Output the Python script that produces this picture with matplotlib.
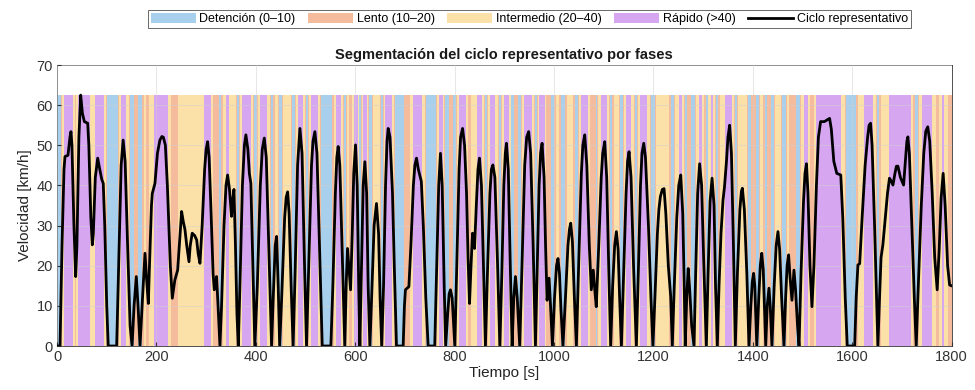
import numpy as np
import matplotlib
matplotlib.use("Agg")
import matplotlib.pyplot as plt
from matplotlib.colors import ListedColormap
from matplotlib.patches import Patch
from matplotlib.lines import Line2D

plt.rcParams['font.family'] = ['Liberation Sans', 'DejaVu Sans']

# ciclo representativo, tiempo en s y velocidad en km/h
tiempo = [
    0, 6, 10, 14, 16, 22, 26, 28, 30, 34,
    37.5, 40, 44, 47.6, 51, 55, 61.7, 64, 68, 71,
    73, 77, 81.8, 86, 90, 93, 96, 100, 103, 120,
    124, 129, 133, 137, 142, 147, 151, 155, 159.5, 163,
    167, 172, 177, 180, 183.7, 186, 190, 191.7, 197, 202,
    207, 211, 214, 218, 222, 228, 231.9, 237, 242.7, 246,
    250.7, 254, 257.4, 261, 265.5, 268, 272, 277, 281, 284,
    287.6, 292, 297, 300, 303, 306, 310, 314, 316.4, 319,
    321, 324, 327.8, 331, 336, 340, 343.2, 347, 351, 353,
    356, 359, 362, 364.7, 368, 373, 377, 380, 384, 387,
    390, 394, 398, 403, 409, 413, 417, 421, 426, 431.7,
    435, 439, 441.8, 445, 448, 452, 458, 461, 464, 467,
    471, 475, 479, 484, 488.7, 493, 498, 502, 506, 512,
    515, 518.8, 523, 528, 533.6, 551, 555, 560, 563, 565.7,
    569, 574, 579, 582, 584.5, 587, 590.6, 594, 597, 600.6,
    604, 607, 609.3, 613, 616, 619.4, 623, 626, 629.5, 633,
    638, 642.8, 647, 650, 653.3, 657, 661, 664, 666.3, 670,
    675, 679, 683, 696.5, 699, 701, 708, 712, 717, 720,
    723.3, 727, 733, 737, 742, 746.7, 760, 764, 768, 771.5,
    775, 779, 782, 786, 789, 791.6, 795, 800.4, 804, 809,
    812, 816, 820, 824, 827, 830, 833, 836, 840, 844,
    847, 850, 854, 858, 862, 866, 871, 874, 877, 881,
    886, 891, 895, 899, 902, 904.3, 908, 912, 915.7, 919,
    922.4, 926, 931, 936, 941, 945, 949, 953, 958, 962.6,
    966, 970, 973, 976, 980, 983, 986, 990, 993, 996.8,
    1001, 1005, 1008, 1011, 1014, 1018, 1023, 1028, 1031, 1033.6,
    1037, 1041, 1045, 1050, 1055, 1058, 1061.8, 1066, 1071, 1075,
    1079, 1082, 1085, 1090, 1095, 1098, 1102, 1106, 1110, 1114,
    1118, 1122, 1125.5, 1129, 1132, 1135.6, 1140, 1145, 1148, 1151,
    1155, 1160, 1165.7, 1170, 1174, 1177, 1180.5, 1184, 1190, 1195,
    1199, 1203, 1208, 1211, 1214, 1218, 1221.4, 1225, 1230, 1234.8,
    1238, 1242, 1247, 1251, 1255, 1259, 1262, 1264, 1267, 1270,
    1273, 1277, 1281.7, 1285, 1289, 1293, 1297, 1301, 1306.5, 1310,
    1314, 1318, 1322, 1325, 1328.6, 1332, 1336, 1340, 1343, 1347,
    1350, 1353.4, 1357, 1361, 1364.8, 1369, 1374, 1377, 1379, 1383,
    1388, 1392.3, 1396, 1399, 1401.6, 1404, 1408, 1412, 1415, 1418,
    1421, 1426, 1429, 1432.5, 1435, 1438.5, 1443, 1447, 1450.6, 1454,
    1458, 1462.7, 1466, 1469, 1472, 1475, 1478.8, 1482.8, 1486, 1490,
    1493, 1497, 1502, 1505, 1508, 1511, 1515, 1519, 1523, 1528,
    1532, 1536.4, 1544, 1554.5, 1558, 1563, 1569, 1577, 1581, 1586,
    1590, 1605, 1608, 1611.5, 1615, 1620, 1626, 1631, 1634, 1637,
    1640, 1645, 1651.7, 1655, 1658, 1661.7, 1666, 1671, 1675, 1678,
    1682, 1686, 1689, 1692, 1697, 1703.4, 1707, 1710, 1712, 1715,
    1720, 1725, 1728.8, 1733, 1739, 1744, 1748, 1752, 1756, 1761,
    1766, 1771, 1775, 1779, 1783, 1787, 1792, 1796, 1800,
]
velocidad = [
    0, 0, 25, 44, 47.2, 47.5, 52, 53.4, 50, 30,
    17.3, 25, 52, 62.5, 58, 55.9, 55.5, 50, 32, 25.2,
    28, 42, 46.8, 44, 41.5, 40.5, 30, 10, 0, 0,
    20, 45, 51.3, 46, 25, 5, 0, 10, 17.3, 10,
    0, 12, 23.1, 17, 10.6, 20, 35, 38, 40.5, 48,
    51.3, 52.2, 52, 50, 40, 20, 11.9, 16.4, 18.9, 25,
    33.5, 31, 29, 25, 21, 25, 28.1, 27.5, 26.4, 23,
    20.6, 30, 44, 49, 50.9, 47, 33, 18, 14, 16,
    17.3, 10, 0, 10, 30, 40, 42.6, 39, 32.3, 36,
    39, 25, 8, 0, 15, 40, 50, 52.6, 49, 43,
    40.5, 20, 0, 15, 40, 49, 51.8, 47, 25, 0,
    12, 25, 27.3, 15, 0, 12, 32, 37, 38.4, 33,
    15, 0, 18, 45, 54.2, 48, 20, 0, 18, 45,
    51, 53.4, 48, 25, 0, 0, 15, 38, 47, 49.7,
    45, 22, 0, 16, 24.3, 20, 14, 28, 43, 50.1,
    40, 15, 0, 22, 40, 45.9, 38, 15, 0, 12,
    30, 35.5, 28, 12, 0, 15, 40, 51, 54.2, 52,
    38, 18, 0, 0, 10, 14, 14.8, 25, 40, 45,
    46.8, 44, 41, 30, 12, 0, 0, 20, 40, 48,
    40, 15, 0, 8, 13, 14, 12, 0, 18, 44,
    52, 54.2, 50, 38, 22, 10.6, 20, 28.1, 24.3, 36,
    44, 46.8, 40, 20, 0, 18, 38, 44, 45.1, 42,
    22, 0, 18, 40, 48, 50.5, 44, 20, 0, 12,
    17.3, 12, 0, 22, 45, 52, 53.4, 48, 25, 0,
    18, 40, 48, 50.5, 42, 25, 11.4, 16.9, 10, 0,
    12, 20, 21.8, 18, 9, 0, 12, 25, 29, 30.6,
    26, 12, 0, 22, 43, 50, 52.6, 45, 25, 14,
    18.9, 14, 9.8, 25, 42, 48, 50.9, 42, 20, 0,
    15, 25, 28.5, 24, 12, 0, 18, 38, 46, 48.4,
    42, 20, 0, 20, 40, 48, 50.5, 47, 30, 12,
    0, 12, 28, 34, 37.2, 39, 39.2, 33, 20, 12.3,
    0, 15, 32, 40, 42.6, 33, 15, 0, 12, 19.3,
    14, 5, 0, 18, 38, 45.4, 40, 22, 0, 18,
    36, 41.8, 35, 15, 0, 15, 28, 36.3, 39.6, 46,
    52, 55, 48, 25, 0, 18, 34, 38.5, 39.3, 34,
    18, 0, 10, 16, 18.1, 15, 0, 12, 20, 23.1,
    19, 0, 10, 14.4, 10, 0, 15, 25, 28.5, 24,
    12, 0, 12, 20, 22.7, 17, 11.4, 18.9, 14, 5,
    0, 18, 36, 43, 45.4, 38, 20, 9.8, 20, 40,
    52, 55.9, 55.9, 56.7, 54, 46, 43, 42.6, 32, 12,
    0, 0, 12, 20.2, 20.5, 32, 45, 52, 55, 55.5,
    50, 30, 0, 12, 22, 25.2, 31, 38, 41.8, 41.2,
    40.1, 43, 44.8, 44.8, 42, 40.1, 46, 51, 52.1, 48,
    30, 12, 0, 15, 35, 48, 53.5, 54.6, 51, 38,
    22, 14, 24, 37, 43, 35, 20, 15.2, 15,
]
print(len(tiempo), len(velocidad))

limites = [10, 20, 40]
fases = ['Detención (0–10)', 'Lento (10–20)', 'Intermedio (20–40)', 'Rápido (>40)']
colores = ['#a8cfec', '#f4bc9c', '#fbe1a8', '#d7a6f1']

t = np.array(tiempo)
v = np.array(velocidad)

# fase de cada segundo del ciclo
t_seg = np.arange(0, 1801)
v_seg = np.interp(t_seg, t, v)
fase = np.digitize(v_seg, limites)

fig = plt.figure(figsize=(9.75, 3.9), dpi=100)
ax = fig.add_axes([0.0585, 0.1128, 0.9175, 0.7205])

ax.imshow(fase[None, :], extent=(0, 1800, 0, v.max()), cmap=ListedColormap(colores),
          vmin=-0.5, vmax=3.5, aspect='auto', interpolation='nearest', origin='lower', zorder=1)
ax.plot(t, v, color='black', linewidth=2, zorder=3)

ax.set_xlim(0, 1800)
ax.set_ylim(0, 70)
ax.set_xticks(np.arange(0, 1801, 200))
ax.set_yticks(np.arange(0, 71, 10))
ax.set_axisbelow(False)
ax.grid(True, color='#d0d0d0', linewidth=0.6, alpha=0.6)
ax.tick_params(direction='in', length=3, colors='#333333', labelsize=10.5, pad=3)
for s in ax.spines.values():
    s.set_color('#333333')
    s.set_linewidth(0.6)

ax.set_xlabel('Tiempo [s]', fontsize=11, color='#262626', labelpad=1)
ax.set_ylabel('Velocidad [km/h]', fontsize=11, color='#262626', labelpad=3)
ax.set_title('Segmentación del ciclo representativo por fases', fontsize=10.5,
             fontweight='bold', color='#1a1a1a', pad=4)

handles = [Patch(facecolor=c, edgecolor='none') for c in colores]
handles.append(Line2D([0], [0], color='black', linewidth=2))
etiquetas = fases + ['Ciclo representativo']
leg = fig.legend(handles, etiquetas, loc='center', bbox_to_anchor=(0.543, 0.951), ncol=5,
                 fontsize=9, frameon=True, fancybox=False, handlelength=3.6, handleheight=0.9,
                 handletextpad=0.3, columnspacing=1.0, borderpad=0.25, borderaxespad=0)
leg.get_frame().set_edgecolor('#262626')
leg.get_frame().set_linewidth(0.6)

fig.savefig('out.png', dpi=100)
